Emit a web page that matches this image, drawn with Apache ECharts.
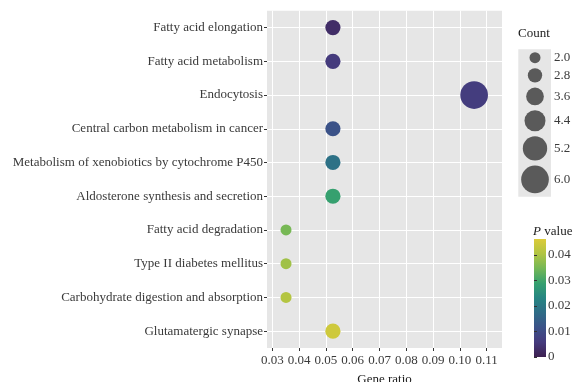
<!DOCTYPE html>
<html>
<head>
<meta charset="utf-8">
<script src="https://cdn.jsdelivr.net/npm/echarts@6/dist/echarts.min.js"></script>
<style>
  html, body { margin: 0; padding: 0; background: #fff; }
  #chart { width: 573px; height: 382px; }
</style>
</head>
<body>
<div id="chart"></div>
<script>
// KEGG pathway enrichment: one bubble per pathway
const categories = [
  'Fatty acid elongation',
  'Fatty acid metabolism',
  'Endocytosis',
  'Central carbon metabolism in cancer',
  'Metabolism of xenobiotics by cytochrome P450',
  'Aldosterone synthesis and secretion',
  'Fatty acid degradation',
  'Type II diabetes mellitus',
  'Carbohydrate digestion and absorption',
  'Glutamatergic synapse'
];
const geneRatio = [0.0526, 0.0526, 0.1053, 0.0526, 0.0526, 0.0526, 0.0351, 0.0351, 0.0351, 0.0526];
const geneCount = [3, 3, 6, 3, 3, 3, 2, 2, 2, 3];
const pValue    = [0.003, 0.006, 0.0065, 0.0116, 0.0185, 0.029, 0.035, 0.039, 0.041, 0.0445];

const xTicks = [0.03, 0.04, 0.05, 0.06, 0.07, 0.08, 0.09, 0.10, 0.11];
const countBreaks = [2.0, 2.8, 3.6, 4.4, 5.2, 6.0];
const pTicks = [0, 0.01, 0.02, 0.03, 0.04];

const pMax = 0.0463;
const palette = ['#3d2050', '#453a7d', '#3b5288', '#2f6c87', '#268582', '#35a06f', '#74b756', '#b0c442', '#dccb3a'];

// bubble diameter grows linearly with gene count
const countMin = 2, countMax = 6, dMin = 11, dMax = 27.7;
function bubbleSize(c) {
  return dMin + (dMax - dMin) * (c - countMin) / (countMax - countMin);
}

const serif = '"Liberation Serif", "DejaVu Serif", serif';
const fontSize = 13;
const textColor = '#3a3a3a';

// size legend keys, stacked top to bottom
const legendX = 535, legendTop = 57.7, keyGap = 5;
const legendItems = [];
let cy = legendTop;
countBreaks.forEach((c, i) => {
  const d = bubbleSize(c);
  if (i > 0) cy += (bubbleSize(countBreaks[i - 1]) + d) / 2 + keyGap;
  legendItems.push({
    type: 'circle', shape: { cx: legendX, cy: cy, r: d / 2 },
    style: { fill: '#5a5a5a' }, z: 10
  });
  legendItems.push({
    type: 'text', x: 554, y: cy,
    style: { text: c.toFixed(1), font: fontSize + 'px ' + serif, fill: textColor, verticalAlign: 'middle', align: 'left' },
    z: 10
  });
});

const colorGradient = {
  type: 'linear', x: 0, y: 1, x2: 0, y2: 0,
  colorStops: palette.map((c, i) => ({ offset: i / (palette.length - 1), color: c }))
};

const chart = echarts.init(document.getElementById('chart'), null, { renderer: 'canvas' });

chart.setOption({
  animation: false,
  backgroundColor: '#fff',
  grid: [
    { left: 267, top: 10.7, width: 235, height: 337.3, show: true, backgroundColor: '#e6e6e6', borderWidth: 0,
      containLabel: false, outerBoundsMode: 'none' },
    { left: 534, top: 239, width: 12, height: 118, show: true, backgroundColor: colorGradient, borderWidth: 0,
      containLabel: false, outerBoundsMode: 'none' }
  ],
  xAxis: [
    {
      gridIndex: 0, type: 'value', min: 0.028, max: 0.1157,
      name: 'Gene ratio', nameLocation: 'middle', nameGap: 25,
      nameTextStyle: { fontFamily: serif, fontSize: fontSize, color: '#1a1a1a' },
      axisLine: { show: false },
      axisTick: { show: true, length: 3, lineStyle: { color: '#333' }, customValues: xTicks },
      axisLabel: { customValues: xTicks, margin: 6, fontFamily: serif, fontSize: fontSize, color: textColor,
        formatter: v => v.toFixed(2) },
      splitLine: { show: true, lineStyle: { color: '#ffffff', width: 1 } }
    },
    { gridIndex: 1, type: 'value', show: false, min: 0, max: 1 }
  ],
  yAxis: [
    {
      gridIndex: 0, type: 'category', data: categories, inverse: true,
      axisLine: { show: false },
      axisTick: { show: true, length: 3, alignWithLabel: true, lineStyle: { color: '#333' } },
      axisLabel: { margin: 4, fontFamily: serif, fontSize: fontSize, color: textColor, interval: 0 },
      splitLine: { show: true, alignWithLabel: true, lineStyle: { color: '#ffffff', width: 1 } }
    },
    {
      gridIndex: 1, type: 'value', min: 0, max: pMax, position: 'right',
      axisLine: { show: false },
      axisTick: { show: true, length: 3, lineStyle: { color: '#333' }, customValues: pTicks },
      axisLabel: { customValues: pTicks, margin: 2, fontFamily: serif, fontSize: fontSize, color: textColor,
        formatter: v => (v === 0 ? '0' : v.toFixed(2)) },
      splitLine: { show: false }
    }
  ],
  visualMap: {
    type: 'continuous', show: false, min: 0, max: pMax, dimension: 2, seriesIndex: 0,
    inRange: { color: palette }
  },
  series: [
    {
      type: 'scatter', xAxisIndex: 0, yAxisIndex: 0,
      data: categories.map((c, i) => [geneRatio[i], c, pValue[i], geneCount[i]]),
      symbolSize: v => bubbleSize(v[3]),
      itemStyle: { opacity: 1 }
    }
  ],
  graphic: [
    { type: 'text', x: 518, y: 34,
      style: { text: 'Count', font: fontSize + 'px ' + serif, fill: '#1a1a1a', verticalAlign: 'middle', align: 'left' } },
    { type: 'rect', shape: { x: 518.3, y: 49.3, width: 32.7, height: 147.4 }, style: { fill: '#e6e6e6' }, z: 5 },
    ...legendItems,
    { type: 'text', x: 533, y: 231.5,
      style: { rich: { i: { fontStyle: 'italic', fontFamily: serif, fontSize: fontSize, fill: '#1a1a1a' },
                       n: { fontFamily: serif, fontSize: fontSize, fill: '#1a1a1a' } },
               text: '{i|P} {n|value}', verticalAlign: 'middle', align: 'left' } }
  ]
});
</script>
</body>
</html>
